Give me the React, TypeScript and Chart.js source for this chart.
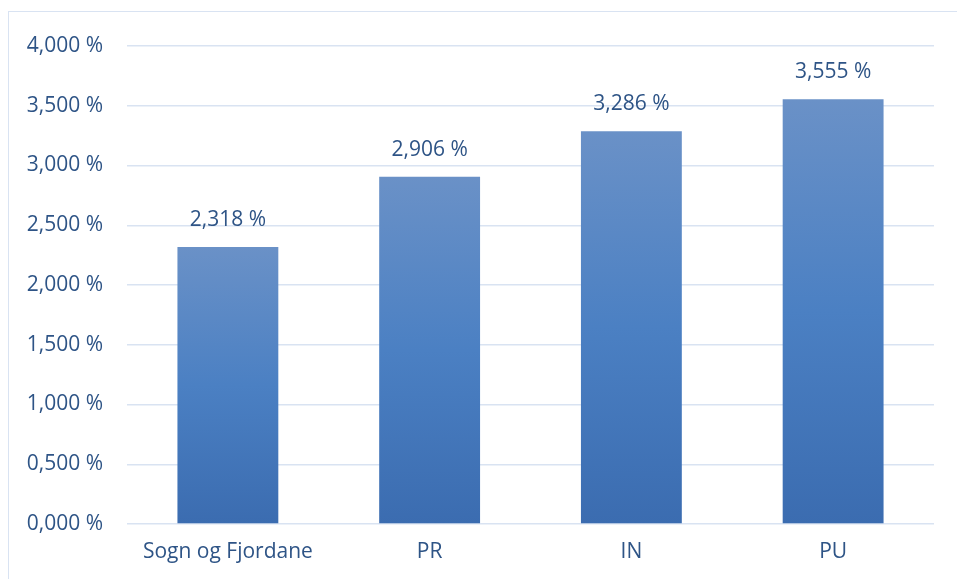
import { useEffect, useRef } from "react";
import { Chart, registerables, Plugin } from "chart.js";

Chart.register(...registerables);

const categories = ["Sogn og Fjordane", "PR", "IN", "PU"];
const values = [2.318, 2.906, 3.286, 3.555];
const yMax = 4;
const yStep = 0.5;

const TEXT = "#2e5486";
const GRID = "#d9e3f2";
const FONT = "'Open Sans', sans-serif";
const SIZE = 21;

const fmt = (v: number) => v.toFixed(3).replace(".", ",") + " %";

// value labels above each bar
const barLabels: Plugin<"bar"> = {
  id: "barLabels",
  afterDatasetsDraw(chart) {
    const { ctx } = chart;
    const meta = chart.getDatasetMeta(0);
    ctx.save();
    ctx.fillStyle = TEXT;
    ctx.font = `${SIZE}px ${FONT}`;
    ctx.textAlign = "center";
    ctx.textBaseline = "middle";
    meta.data.forEach((bar, i) => {
      ctx.fillText(fmt(values[i]), bar.x, bar.y - 27);
    });
    ctx.restore();
  },
};

export default function App() {
  const canvasRef = useRef<HTMLCanvasElement | null>(null);
  const chartRef = useRef<Chart | null>(null);

  useEffect(() => {
    document.body.style.margin = "0";
    if (!canvasRef.current) return;
    chartRef.current?.destroy();

    chartRef.current = new Chart(canvasRef.current, {
      type: "bar",
      data: {
        labels: categories,
        datasets: [
          {
            data: values,
            backgroundColor: (c) => {
              const chart = c.chart;
              const y = chart.scales.y;
              if (!chart.chartArea || !y) return "#4a7fc1";
              const top = y.getPixelForValue(c.raw as number);
              const bottom = y.getPixelForValue(0);
              const g = chart.ctx.createLinearGradient(0, top, 0, bottom);
              g.addColorStop(0, "#6a91c7");
              g.addColorStop(0.5, "#4b80c3");
              g.addColorStop(1, "#3b6cb0");
              return g;
            },
            borderWidth: 0,
            barPercentage: 0.5,
            categoryPercentage: 1,
          },
        ],
      },
      options: {
        responsive: false,
        animation: false,
        layout: { padding: { top: 46, right: 23, bottom: 15, left: 0 } },
        plugins: {
          legend: { display: false },
          tooltip: { enabled: false },
        },
        scales: {
          x: {
            grid: { display: false, drawTicks: false },
            border: { display: false },
            ticks: {
              color: TEXT,
              font: { family: FONT, size: SIZE },
              padding: 15,
              maxRotation: 0,
            },
            afterFit: (s) => {
              s.height = 40;
            },
          },
          y: {
            min: 0,
            max: yMax,
            grid: { color: GRID, lineWidth: 1.5, drawTicks: false },
            border: { display: false },
            ticks: {
              stepSize: yStep,
              color: TEXT,
              font: { family: FONT, size: SIZE },
              padding: 24,
              callback: (v) => fmt(Number(v)),
            },
            afterFit: (s) => {
              s.width = 127;
            },
          },
        },
      },
      plugins: [barLabels],
    });

    return () => chartRef.current?.destroy();
  }, []);

  return (
    <div style={{ position: "relative", width: 957, height: 579, overflow: "hidden", background: "#fff" }}>
      <div
        style={{
          position: "absolute",
          left: 8,
          top: 11,
          width: 1000,
          height: 1000,
          borderLeft: `1.5px solid ${GRID}`,
          borderTop: `1.5px solid ${GRID}`,
        }}
      />
      <canvas ref={canvasRef} width={957} height={579} style={{ position: "absolute", left: 0, top: 0 }} />
    </div>
  );
}
